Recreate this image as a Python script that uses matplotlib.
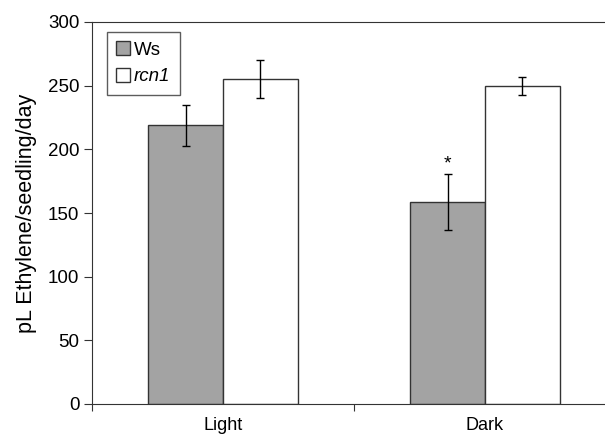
import numpy as np
import matplotlib
matplotlib.use("Agg")
import matplotlib.pyplot as plt

plt.rcParams['font.family'] = ['Liberation Sans', 'DejaVu Sans']

conditions = ["Light", "Dark"]
ws_vals = [219, 159]
ws_err = [16, 22]
rcn_vals = [255, 250]
rcn_err = [15, 7]

fig = plt.figure(figsize=(6.05, 4.34), dpi=100)
ax = fig.add_axes([92/605, 30/434, 524/605, 382/434])

x = np.arange(len(conditions))
w = 0.286
ax.bar(x - w/2, ws_vals, w, color='#a3a3a3', edgecolor='#333333', linewidth=1,
       yerr=ws_err, capsize=3, error_kw=dict(elinewidth=1, capthick=1), label='Ws')
ax.bar(x + w/2, rcn_vals, w, color='white', edgecolor='#333333', linewidth=1,
       yerr=rcn_err, capsize=3, error_kw=dict(elinewidth=1, capthick=1), label='rcn1')
ax.text(x[1] - w/2, ws_vals[1] + ws_err[1] + 1, '*', ha='center', va='bottom', fontsize=14)

ax.set_xlim(-0.5, 1.5)
ax.set_ylim(0, 300)
ax.set_yticks(range(0, 301, 50))
ax.set_xticks([-0.5, 0.5])
ax.set_xticklabels([])
ax.set_xticks(x, minor=True)
ax.set_xticklabels(conditions, minor=True)
ax.tick_params(axis='x', which='minor', length=0, pad=9, labelsize=13)
ax.tick_params(axis='x', which='major', length=5, direction='out', color='#333333')
ax.tick_params(axis='y', length=6, direction='out', labelsize=13.5, color='#333333', pad=3)
for s in ['left', 'bottom', 'top']:
    ax.spines[s].set_color('#333333')
ax.spines['right'].set_visible(False)
ax.set_ylabel('pL Ethylene/seedling/day', fontsize=15.5, labelpad=8)

leg = ax.legend(loc='upper left', bbox_to_anchor=(0.028, 0.974), fontsize=13.5, frameon=True,
                fancybox=False, edgecolor='#333333', handlelength=0.75, handleheight=0.75,
                handletextpad=0.2, borderpad=0.5, labelspacing=0.5, borderaxespad=0)
leg.get_frame().set_linewidth(1)
leg.get_texts()[1].set_style('italic')

fig.savefig('out.png', dpi=100)
